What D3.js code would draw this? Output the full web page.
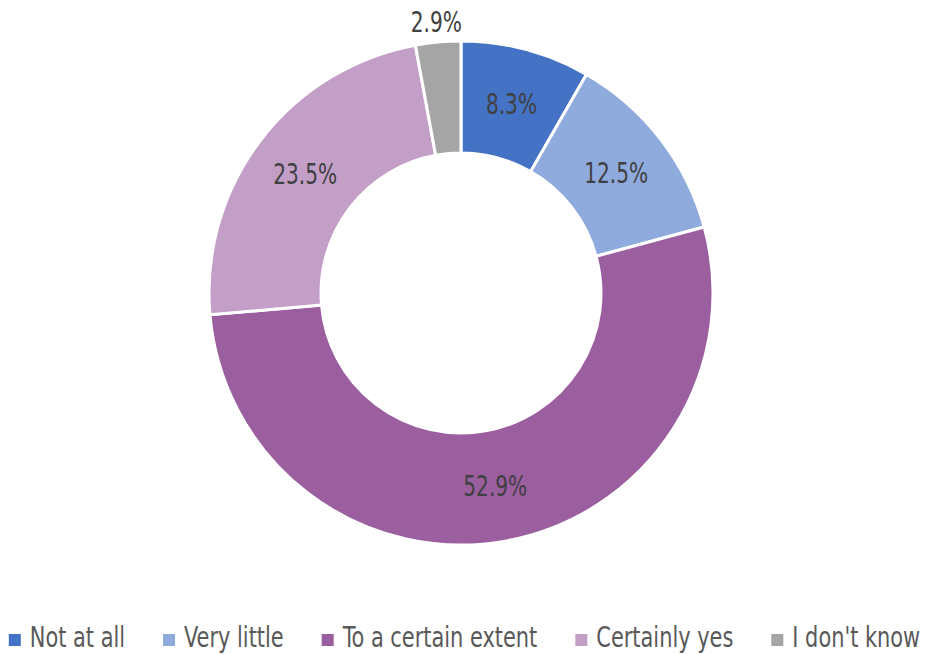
<!DOCTYPE html>
<html>
<head>
<meta charset="utf-8">
<script src="https://cdn.jsdelivr.net/npm/d3@7"></script>
<style>
  body { margin: 0; background: #fff; }
  text { font-family: "DejaVu Sans Condensed", "DejaVu Sans", sans-serif; font-stretch: condensed; }
</style>
</head>
<body>
<svg id="chart" width="929" height="654"></svg>
<script>
// data
const categories = ["Not at all", "Very little", "To a certain extent", "Certainly yes", "I don't know"];
const values = [8.3, 12.5, 52.9, 23.5, 2.9];
const colors = ["#4472c4", "#8faadc", "#9b5fa0", "#c39fc8", "#a5a5a5"];

const width = 929, height = 654;
const cx = 461, cy = 293;
const outerR = 252, innerR = 140;

const svg = d3.select("#chart");

const data = categories.map((c, i) => ({ cat: c, value: values[i] }));

const pie = d3.pie()
  .value(d => d.value)
  .sort(null);

const arc = d3.arc()
  .innerRadius(innerR)
  .outerRadius(outerR);

const arcs = pie(data);

const g = svg.append("g").attr("transform", `translate(${cx},${cy})`);

g.selectAll("path")
  .data(arcs)
  .join("path")
  .attr("d", arc)
  .attr("fill", (d, i) => colors[i])
  .attr("stroke", "#fff")
  .attr("stroke-width", 3);

// labels, small slices go outside
const outerArc = d3.arc().innerRadius(outerR + 20).outerRadius(outerR + 20);

g.selectAll("text.lbl")
  .data(arcs)
  .join("text")
  .attr("class", "lbl")
  .attr("transform", d => {
    let p = d.data.value < 5 ? outerArc.centroid(d) : arc.centroid(d);
    return `translate(${p[0]},${p[1]}) scale(0.8,1)`;
  })
  .attr("text-anchor", "middle")
  .attr("dy", "0.36em")
  .attr("font-size", 28)
  .attr("fill", "#404040")
  .text(d => d.data.value.toFixed(1) + "%");

// legend
const sx = 0.83; // squeeze text to look like the narrow original font
const leg = svg.append("g");
const items = leg.selectAll("g")
  .data(data)
  .join("g");

items.append("rect")
  .attr("x", 0)
  .attr("y", -13)
  .attr("width", 12)
  .attr("height", 12)
  .attr("fill", (d, i) => colors[i]);

items.append("text")
  .attr("transform", `translate(21,0) scale(${sx},1)`)
  .attr("font-size", 28)
  .attr("fill", "#595959")
  .text(d => d.cat);

// flow the items, then centre
let x = 0;
const gap = 38;
items.each(function () {
  const w = 21 + d3.select(this).select("text").node().getComputedTextLength() * sx;
  d3.select(this).attr("transform", `translate(${x},0)`);
  x += w + gap;
});
const total = x - gap;
leg.attr("transform", `translate(${(width - total) / 2},647)`);
</script>
</body>
</html>
